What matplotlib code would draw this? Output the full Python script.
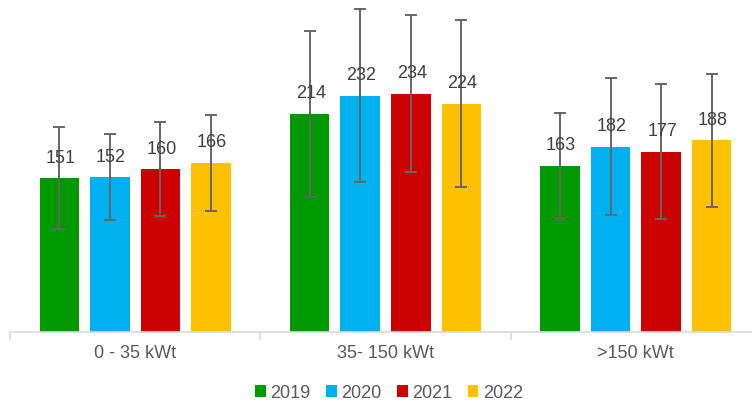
import matplotlib
matplotlib.use("Agg")
import matplotlib.pyplot as plt
import numpy as np
from matplotlib.patches import Patch

plt.rcParams['font.family'] = ['Liberation Sans', 'DejaVu Sans']

categories = ["0 - 35 kWt", "35- 150 kWt", ">150 kWt"]
years = ["2019", "2020", "2021", "2022"]
values = {
    "2019": [151, 214, 163],
    "2020": [152, 232, 182],
    "2021": [160, 234, 177],
    "2022": [166, 224, 188],
}
errors = {
    "2019": [50, 81, 52],
    "2020": [42, 85, 67],
    "2021": [46, 77, 66],
    "2022": [47, 82, 65],
}
colors = ["#009900", "#00B0F0", "#CC0000", "#FFC000"]

W, H = 752, 401
fig = plt.figure(figsize=(W / 100, H / 100), dpi=100)
ax_left = 10 / W
ax_width = 751 / W
ax_bottom = 68.7 / H
ax = fig.add_axes([ax_left, ax_bottom, ax_width, 1 - ax_bottom])

x = np.arange(len(categories))
step = 0.202
bw = 0.158
txt_col = "#595959"
val_col = "#404040"
for i, yr in enumerate(years):
    pos = x + (i - 1.5) * step
    ax.bar(pos, values[yr], width=bw, color=colors[i], zorder=2)
    ax.errorbar(pos, values[yr], yerr=errors[yr], fmt='none', ecolor="#666666",
                elinewidth=1.4, capsize=4.5, capthick=1.4, zorder=3)
    for p, v in zip(pos, values[yr]):
        ax.text(p + 0.004, v + 20 / 1.0203, str(v), ha='center', va='center',
                fontsize=13, color=val_col, zorder=4)

ax.set_xlim(-0.5, 2.5)
ax.set_ylim(0, 325.7)
ax.set_yticks([])
for s in ["top", "right", "left"]:
    ax.spines[s].set_visible(False)
ax.spines["bottom"].set_color("#D9D9D9")
ax.spines["bottom"].set_linewidth(1.2)
ax.set_xticks(x)
ax.set_xticklabels(categories, fontsize=13, color=txt_col)
ax.tick_params(axis='x', which='major', length=0, pad=9)
ax.set_xticks([-0.5, 0.5, 1.5, 2.5], minor=True)
ax.tick_params(axis='x', which='minor', length=6, color="#D9D9D9", width=1.2)

handles = [Patch(facecolor=c, edgecolor='none') for c in colors]
fig.legend(handles, years, loc='center', bbox_to_anchor=(389 / W, 1 - 393 / H),
           ncol=4, frameon=False, fontsize=13, labelcolor=txt_col,
           handlelength=0.6, handleheight=0.6, handletextpad=0.25, columnspacing=0.85)

fig.savefig("out.png", dpi=100)
